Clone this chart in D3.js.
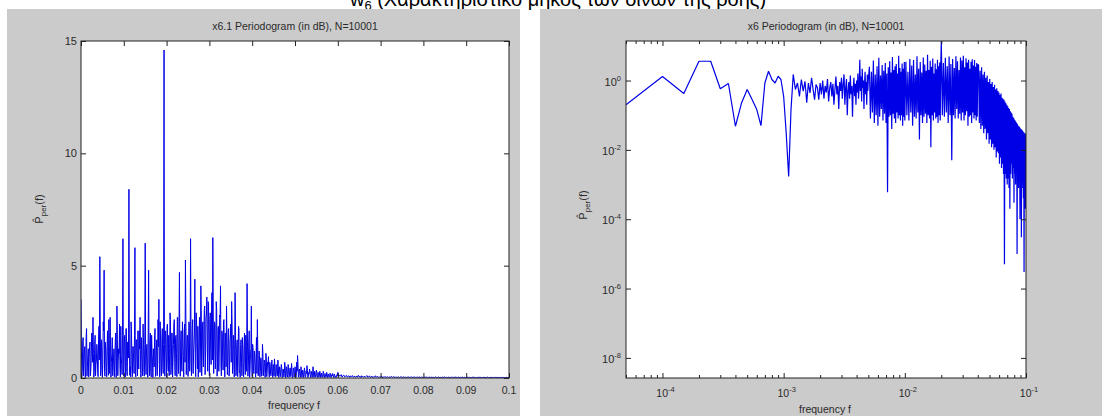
<!DOCTYPE html>
<html><head><meta charset="utf-8">
<script src="https://cdn.jsdelivr.net/npm/d3@7/dist/d3.min.js"></script>
<style>body{margin:0;background:#fff}svg{display:block}text{font-family:"Liberation Sans",Arial,sans-serif}</style>
</head><body><svg id="c" width="1102" height="416"></svg>
<script>
// ---------------- DATA ----------------
const mainTitleText = " (Χαρακτηριστικό μήκος των δινών της ροής)";
const leftTitle = "x6.1 Periodogram (in dB), N=10001";
const rightTitle = "x6 Periodogram (in dB), N=10001";
const xLabelText = "frequency f";

const leftXTicks = [0,0.01,0.02,0.03,0.04,0.05,0.06,0.07,0.08,0.09,0.1];
const leftXTickLabels = ["0","0.01","0.02","0.03","0.04","0.05","0.06","0.07","0.08","0.09","0.1"];
const leftYTicks = [0,5,10,15];
const rightXTicks = [1e-4,1e-3,1e-2,1e-1];
const rightXTickExp = ["-4","-3","-2","-1"];
const rightYTicks = [1e0,1e-2,1e-4,1e-6,1e-8];
const rightYTickExp = ["0","-2","-4","-6","-8"];

// left periodogram, even bins: f = 0, 0.0002, ... 0.0498
const leftFreqStep = 0.0002;
const leftPowerA = [
3.5,0.05,1.6,0.1,1.2,0.03,1.8,0.08,1.0,0.05,
1.4,0.1,0.9,1.9,2.7,0.04,1.5,0.1,0.8,1.2,
0.06,2.3,5.4,0.1,1.7,0.03,2.5,4.8,0.08,1.3,
0.05,2.1,0.12,1.4,2.7,0.04,1.1,0.1,0.9,0.06,
1.6,0.03,3.2,0.1,1.3,2.4,0.05,1.0,0.15,6.2,
0.08,1.9,0.04,2.2,0.1,1.6,8.4,0.12,0.05,2.0,
0.06,1.4,0.2,5.8,0.05,1.7,0.1,1.0,2.1,2.7,
0.04,1.2,0.1,1.8,0.08,6.0,0.15,1.5,0.03,4.8,
0.1,2.0,0.05,1.1,0.02,0.8,1.9,0.07,1.2,0.1,
2.6,3.5,0.05,1.6,0.1,2.2,0.2,14.6,0.08,1.8,
0.04,2.4,0.3,0.1,2.9,0.15,2.0,0.05,1.5,2.6,
0.1,1.9,0.06,2.7,0.2,4.7,0.08,2.1,0.3,1.6,
0.05,2.4,5.25,0.15,1.9,0.07,2.5,0.3,6.2,0.1,
2.2,0.2,1.5,4.4,0.06,2.6,0.4,0.05,2.0,0.25,
4.1,0.1,2.4,0.5,3.0,0.15,2.7,3.6,0.3,3.3,
0.1,2.9,0.6,3.8,6.25,0.2,2.5,0.4,3.4,0.08,
2.2,0.3,2.8,4.1,0.1,2.0,0.35,2.6,0.05,1.7,
3.2,0.15,2.1,0.08,1.6,2.4,3.4,0.2,1.9,0.05,
3.8,0.1,1.5,0.06,2.3,0.25,0.03,1.7,0.1,1.3,
0.05,2.0,0.15,1.4,4.2,0.08,1.6,0.03,1.1,3.2,
0.06,1.3,0.2,1.0,0.04,1.8,2.6,0.1,1.2,0.05,
0.9,0.08,1.5,0.1,0.8,0.03,1.1,0.06,0.7,0.95,
0.04,0.6,0.1,0.8,0.02,0.5,0.85,0.05,0.6,0.08,
0.8,0.02,0.5,0.06,0.6,0.02,0.4,0.05,0.7,0.02,
0.5,0.04,0.6,0.03,0.4,0.06,0.65,0.02,0.45,0.04];
// even bins: f = 0.05 .. 0.1
const leftPowerB = [
0.5,0.03,0.7,1.0,0.04,0.4,0.02,0.5,0.03,0.35,
0.02,0.45,0.03,0.3,0.55,0.02,0.25,0.4,0.02,0.3,
0.03,0.5,0.02,0.3,0.04,0.35,0.02,0.25,0.03,0.3,
0.02,0.22,0.03,0.3,0.02,0.2,0.03,0.25,0.02,0.18,
0.03,0.22,0.02,0.15,0.2,0.02,0.18,0.03,0.02,0.15,
0.25,0.06,0.12,0.08,0.15,0.04,0.1,0.13,0.05,0.09,
0.12,0.04,0.08,0.1,0.03,0.09,0.06,0.11,0.04,0.07,
0.06,0.03,0.09,0.04,0.12,0.05,0.08,0.02,0.1,0.06,
0.04,0.08,0.03,0.07,0.11,0.04,0.06,0.09,0.03,0.05,
0.08,0.02,0.06,0.04,0.1,0.03,0.07,0.05,0.02,0.06,
0.04,0.08,0.03,0.05,0.02,0.07,0.04,0.03,0.06,0.02,
0.05,0.03,0.04,0.07,0.02,0.05,0.03,0.06,0.02,0.04,
0.03,0.05,0.02,0.04,0.06,0.03,0.02,0.05,0.03,0.04,
0.02,0.04,0.03,0.05,0.02,0.03,0.06,0.02,0.04,0.03,
0.05,0.02,0.03,0.04,0.02,0.05,0.03,0.02,0.04,0.03,
0.02,0.03,0.05,0.02,0.04,0.02,0.03,0.04,0.02,0.03,
0.04,0.02,0.03,0.02,0.05,0.03,0.02,0.03,0.04,0.02,
0.03,0.02,0.04,0.02,0.03,0.05,0.02,0.03,0.02,0.04,
0.02,0.03,0.02,0.04,0.03,0.02,0.03,0.05,0.02,0.03,
0.02,0.04,0.02,0.03,0.02,0.03,0.04,0.02,0.03,0.02,
0.03,0.02,0.04,0.02,0.03,0.02,0.02,0.03,0.04,0.02,
0.03,0.02,0.02,0.03,0.02,0.04,0.02,0.03,0.02,0.02,
0.03,0.02,0.03,0.02,0.02,0.04,0.02,0.02,0.03,0.02,
0.02,0.03,0.02,0.02,0.03,0.02,0.02,0.03,0.02,0.02,
0.03,0.02,0.02,0.03,0.02,0.02,0.02,0.03,0.02,0.02,0.02];
// odd bins: f = 0.0001, 0.0003, ... 0.0599
const leftPowerOdd = [
1.2,0.4,1.8,0.6,1.4,0.3,2.2,0.5,1.3,0.9,
1.6,0.4,2.0,0.7,1.1,0.3,1.9,0.6,1.5,0.2,
1.7,0.8,2.4,0.4,1.2,0.6,2.1,0.3,1.6,0.5,
1.4,0.9,2.6,0.2,1.5,0.7,1.8,0.4,1.3,0.6,
2.0,0.3,1.7,0.8,1.1,0.5,2.3,0.6,1.9,0.4,
1.5,0.7,2.2,0.3,1.6,0.9,1.2,0.5,2.5,0.4,
1.4,0.8,1.9,0.3,1.7,0.6,2.1,0.4,1.3,0.7,
1.8,0.5,2.4,0.3,1.5,0.8,1.2,0.4,2.0,0.6,
1.6,0.3,1.9,0.7,1.3,0.5,2.2,0.4,1.7,0.8,
1.4,0.6,2.5,0.3,1.8,0.7,1.5,0.5,2.1,0.9,
2.3,0.6,1.9,1.0,2.6,0.5,2.0,0.8,2.4,0.7,
1.8,1.1,2.7,0.6,2.2,0.9,1.7,0.5,2.5,1.0,
2.0,0.7,2.8,1.2,1.9,0.6,2.4,1.0,2.2,0.8,
2.6,1.1,2.0,0.7,2.9,1.3,2.3,0.9,2.7,1.2,
3.0,1.0,2.5,1.4,3.2,0.9,2.8,1.5,3.4,1.1,
2.6,1.3,3.1,0.8,2.9,1.2,2.4,1.0,3.0,0.7,
2.3,1.1,2.7,0.6,2.1,0.9,2.5,0.8,2.0,0.5,
1.8,0.9,2.2,0.4,1.9,0.7,2.4,0.5,1.6,0.8,
2.0,0.4,1.7,0.6,2.2,0.3,1.5,0.7,1.8,0.4,
1.4,0.6,1.9,0.3,1.6,0.5,2.1,0.4,1.3,0.6,
1.5,0.3,1.2,0.5,0.9,0.2,1.4,0.4,1.0,0.3,
0.8,0.2,1.1,0.4,0.7,0.2,0.9,0.3,0.6,0.2,
0.7,0.15,0.5,0.3,0.6,0.1,0.55,0.2,0.45,0.1,
0.5,0.15,0.4,0.25,0.45,0.1,0.35,0.2,0.5,0.1,
0.4,0.15,0.35,0.1,0.45,0.2,0.3,0.1,0.4,0.15,
0.35,0.1,0.3,0.6,0.15,0.3,0.08,0.35,0.1,0.25,
0.12,0.3,0.06,0.2,0.35,0.08,0.2,0.25,0.05,0.22,
0.1,0.3,0.05,0.2,0.1,0.25,0.04,0.18,0.1,0.2,
0.05,0.15,0.08,0.2,0.04,0.14,0.06,0.18,0.04,0.12,
0.06,0.15,0.04,0.1,0.13,0.05,0.12,0.07,0.04,0.1];

// right periodogram: frequency bin width 5e-5, bins k; segments of (start k, step k)
const rightFreqStep = 5e-5;
const rightSegStart = [1,102,204,408,812];
const rightSegStep = [1,2,4,8,12];
const rightPowA = [ // k = 1..100
0.2,1.3,0.42,3.6,3.6,0.58,0.82,0.048,0.23,0.55,
0.28,0.145,0.05,0.85,1.85,1.07,0.85,1.33,1.07,0.35,
0.03,0.0017,0.145,1.5,0.55,0.85,0.35,1.07,0.49,0.95,
0.23,0.85,0.44,1.2,0.55,0.28,0.77,0.62,0.28,0.85,
0.4,1.0,0.3,0.7,0.45,1.1,0.25,0.6,0.9,0.35,
0.8,0.2,0.55,1.3,0.4,0.7,0.15,0.9,0.5,1.2,
0.3,0.8,1.5,0.2,0.6,1.1,0.1,0.5,0.9,0.3,
1.4,0.4,0.7,0.09,0.6,1.2,0.35,0.8,0.2,1.0,
0.45,1.6,0.3,0.7,4.0,0.5,1.3,0.25,2.2,0.6,
1.0,0.15,0.8,1.8,0.4,0.9,0.2,1.5,0.5,1.1];
const rightPowB = [ // k = 102..200 step 2
2.5,0.08,1.8,0.12,3.8,0.06,1.5,0.1,2.6,0.05,
4.5,0.09,1.4,0.15,2.8,0.07,1.9,0.11,3.2,0.06,
1.6,0.0006,2.4,0.09,3.6,0.1,1.7,0.04,4.8,0.11,
2.0,0.08,2.6,0.06,3.0,0.12,1.6,0.08,5.2,0.1,
2.3,0.07,1.8,0.1,3.1,0.05,2.2,0.09,3.4,0.07];
const rightPowC = [ // k = 204..400 step 4
3.5,0.1,1.8,0.07,4.2,0.12,2.7,0.05,3.9,0.09,
1.5,0.08,5.0,0.12,2.2,0.02,3.4,0.1,1.7,0.06,
4.6,0.09,2.9,0.11,1.9,0.06,5.5,0.1,2.0,0.08,
3.7,0.012,2.5,0.1,4.3,0.07,1.6,0.12,3.1,0.08,
2.1,0.09,4.0,0.06,2.6,0.1,3.3,0.07,2.8,14];
const rightPowD = [ // k = 408..800 step 8
0.1,3.2,0.09,4.5,0.12,2.6,0.06,4.9,0.1,3.0,
0.005,4.2,0.1,2.3,0.08,5.0,0.15,3.6,0.08,2.0,
0.11,4.6,0.07,3.8,0.12,5.2,0.07,2.4,0.1,4.4,
0.13,3.3,0.05,4.0,0.09,2.2,0.1,3.5,0.06,4.1,
0.12,2.7,0.08,3.9,0.1,2.5,0.07,3.2,0.09,2.9];
const rightPowE = [ // k = 812..2000 step 12
2.8,0.06,1.9,0.04,2.4,0.05,1.5,0.03,1.8,0.04,
1.2,0.02,1.4,0.03,0.9,0.015,1.1,0.02,0.8,0.012,
0.9,0.015,0.65,0.01,0.75,0.012,0.55,0.006,0.6,0.009,
0.5,0.008,0.45,0.004,0.38,0.006,0.42,0.003,0.32,0.004,
0.3,0.002,0.28,5e-6,0.25,0.002,0.22,0.0015,0.2,0.001,
0.18,0.0015,0.16,0.0008,0.15,0.0002,0.13,0.002,0.12,0.004,
0.11,0.0015,0.09,0.003,0.085,0.0003,0.075,0.002,0.07,0.001,
0.065,0.0025,0.06,1e-5,0.055,0.0015,0.05,0.0008,0.048,0.002,
0.045,0.0001,0.042,0.0012,0.04,3e-5,0.038,0.0008,0.036,0.0015,
0.034,0.0004,0.032,3e-6,0.03,0.001,0.03,0.0002,0.028,0.0008];

// ---------------- DRAW ----------------
const svg = d3.select("#c");
const FONT = "'Liberation Sans', Arial, sans-serif";
const TXT = "#2a2a2a";
const LINE = "#0000e6";
svg.append("rect").attr("width",1102).attr("height",416).attr("fill","#fff");

// main title (mostly cropped at the top)
const mt = svg.append("text").attr("x",558).attr("y",6).attr("text-anchor","middle")
  .attr("font-size",20).attr("fill","#000").attr("font-family",FONT);
mt.append("tspan").text("w");
mt.append("tspan").attr("font-size",13).attr("dy",4).text("6");
mt.append("tspan").attr("dy",-4).text(mainTitleText);

// figure backgrounds
svg.append("rect").attr("x",7).attr("y",9).attr("width",513).attr("height",407).attr("fill","#cbcbcb");
svg.append("rect").attr("x",540).attr("y",9).attr("width",562).attr("height",407).attr("fill","#cbcbcb");

const defs = svg.append("defs");
function axesBox(id, x0, y0, x1, y1){
  svg.append("rect").attr("x",x0).attr("y",y0).attr("width",x1-x0).attr("height",y1-y0).attr("fill","#fff");
  defs.append("clipPath").attr("id",id).append("rect").attr("x",x0).attr("y",y0).attr("width",x1-x0).attr("height",y1-y0);
}
function styleAxis(g){
  g.select(".domain").remove();
  g.selectAll(".tick line").attr("stroke","#222");
  g.selectAll(".tick text").remove();
}

// ===== LEFT =====
const LX0=81, LX1=509, LY0=41, LY1=378;
axesBox("clipL", LX0, LY0, LX1, LY1);
const lx = d3.scaleLinear().domain([0,0.1]).range([LX0,LX1]);
const ly = d3.scaleLinear().domain([0,15]).range([LY1,LY0]);
const leftData = [];
leftPowerA.concat(leftPowerB).forEach((v,i)=>leftData.push([i*leftFreqStep, v]));
leftPowerOdd.forEach((v,j)=>leftData.push([(j+0.5)*leftFreqStep, v]));
leftData.sort((a,b)=>a[0]-b[0]);
const leftLine = d3.line().x(d=>lx(d[0])).y(d=>ly(d[1]));
svg.append("path").attr("clip-path","url(#clipL)").attr("d",leftLine(leftData))
  .attr("fill","none").attr("stroke",LINE).attr("stroke-width",1).attr("stroke-linejoin","bevel");

svg.append("g").attr("transform",`translate(0,${LY1})`).call(d3.axisBottom(lx).tickValues(leftXTicks).tickSize(-5)).call(styleAxis);
svg.append("g").attr("transform",`translate(0,${LY0})`).call(d3.axisTop(lx).tickValues(leftXTicks).tickSize(-5)).call(styleAxis);
svg.append("g").attr("transform",`translate(${LX0},0)`).call(d3.axisLeft(ly).tickValues(leftYTicks).tickSize(-5)).call(styleAxis);
svg.append("g").attr("transform",`translate(${LX1},0)`).call(d3.axisRight(ly).tickValues(leftYTicks).tickSize(-5)).call(styleAxis);
svg.append("rect").attr("x",LX0).attr("y",LY0).attr("width",LX1-LX0).attr("height",LY1-LY0)
  .attr("fill","none").attr("stroke","#222").attr("stroke-width",1);

svg.append("g").selectAll("text").data(leftXTicks).join("text")
  .attr("x",d=>lx(d)).attr("y",394).attr("text-anchor","middle").attr("font-size",10.5).attr("fill",TXT)
  .text((d,i)=>leftXTickLabels[i]);
svg.append("g").selectAll("text").data(leftYTicks).join("text")
  .attr("x",77).attr("y",d=>ly(d)+4).attr("text-anchor","end").attr("font-size",11).attr("fill",TXT)
  .text(d=>d);
svg.append("text").attr("x",(LX0+LX1)/2).attr("y",30).attr("text-anchor","middle").attr("font-size",10.5).attr("fill",TXT).text(leftTitle);
svg.append("text").attr("x",294).attr("y",409).attr("text-anchor","middle").attr("font-size",10.5).attr("fill",TXT).text(xLabelText);

function yLabel(x, y){
  const t = svg.append("text").attr("transform",`translate(${x},${y}) rotate(-90)`).attr("text-anchor","middle")
    .attr("font-size",11).attr("fill",TXT);
  t.append("tspan").text("P\u0302");
  t.append("tspan").attr("font-size",8).attr("dy",3).text("per");
  t.append("tspan").attr("dy",-3).text("(f)");
}
yLabel(43, 209);

// ===== RIGHT =====
const RX0=626, RX1=1026, RY0=41, RY1=378;
axesBox("clipR", RX0, RY0, RX1, RY1);
const rx = d3.scaleLog().domain([5e-5,0.1]).range([RX0,RX1]);
const ry = d3.scaleLog().domain([Math.pow(10,-8.58),Math.pow(10,1.14)]).range([RY1,RY0]);
const rightSegs = [rightPowA,rightPowB,rightPowC,rightPowD,rightPowE];
const rightData = [];
rightSegs.forEach((arr,s)=>arr.forEach((v,j)=>rightData.push([(rightSegStart[s]+j*rightSegStep[s])*rightFreqStep, v])));
const rightLine = d3.line().x(d=>rx(d[0])).y(d=>ry(d[1]));
svg.append("path").attr("clip-path","url(#clipR)").attr("d",rightLine(rightData))
  .attr("fill","none").attr("stroke",LINE).attr("stroke-width",1.2).attr("stroke-linejoin","bevel");

const rightXMinor = [];
[1e-5,1e-4,1e-3,1e-2].forEach(b=>[2,3,4,5,6,7,8,9].forEach(m=>{const v=b*m; if(v>=5e-5 && v<=0.1) rightXMinor.push(v);}));
svg.append("g").attr("transform",`translate(0,${RY1})`).call(d3.axisBottom(rx).tickValues(rightXTicks).tickSize(-5)).call(styleAxis);
svg.append("g").attr("transform",`translate(0,${RY0})`).call(d3.axisTop(rx).tickValues(rightXTicks).tickSize(-5)).call(styleAxis);
svg.append("g").attr("transform",`translate(0,${RY1})`).call(d3.axisBottom(rx).tickValues(rightXMinor).tickSize(-3)).call(styleAxis);
svg.append("g").attr("transform",`translate(0,${RY0})`).call(d3.axisTop(rx).tickValues(rightXMinor).tickSize(-3)).call(styleAxis);
svg.append("g").attr("transform",`translate(${RX0},0)`).call(d3.axisLeft(ry).tickValues(rightYTicks).tickSize(-5)).call(styleAxis);
svg.append("g").attr("transform",`translate(${RX1},0)`).call(d3.axisRight(ry).tickValues(rightYTicks).tickSize(-5)).call(styleAxis);
svg.append("rect").attr("x",RX0).attr("y",RY0).attr("width",RX1-RX0).attr("height",RY1-RY0)
  .attr("fill","none").attr("stroke","#222").attr("stroke-width",1);

const rxl = svg.append("g").selectAll("text").data(rightXTicks).join("text")
  .attr("x",d=>rx(d)+3).attr("y",397).attr("text-anchor","middle").attr("font-size",10.5).attr("fill",TXT);
rxl.append("tspan").text("10");
rxl.append("tspan").attr("font-size",7.5).attr("dy",-5).text((d,i)=>rightXTickExp[i]);
const ryl = svg.append("g").selectAll("text").data(rightYTicks).join("text")
  .attr("x",621).attr("y",d=>ry(d)+5).attr("text-anchor","end").attr("font-size",11).attr("fill",TXT);
ryl.append("tspan").text("10");
ryl.append("tspan").attr("font-size",7.5).attr("dy",-5).text((d,i)=>rightYTickExp[i]);
svg.append("text").attr("x",(RX0+RX1)/2).attr("y",30).attr("text-anchor","middle").attr("font-size",10.5).attr("fill",TXT).text(rightTitle);
svg.append("text").attr("x",825).attr("y",413).attr("text-anchor","middle").attr("font-size",10.5).attr("fill",TXT).text(xLabelText);
yLabel(587, 205);
</script></body></html>
